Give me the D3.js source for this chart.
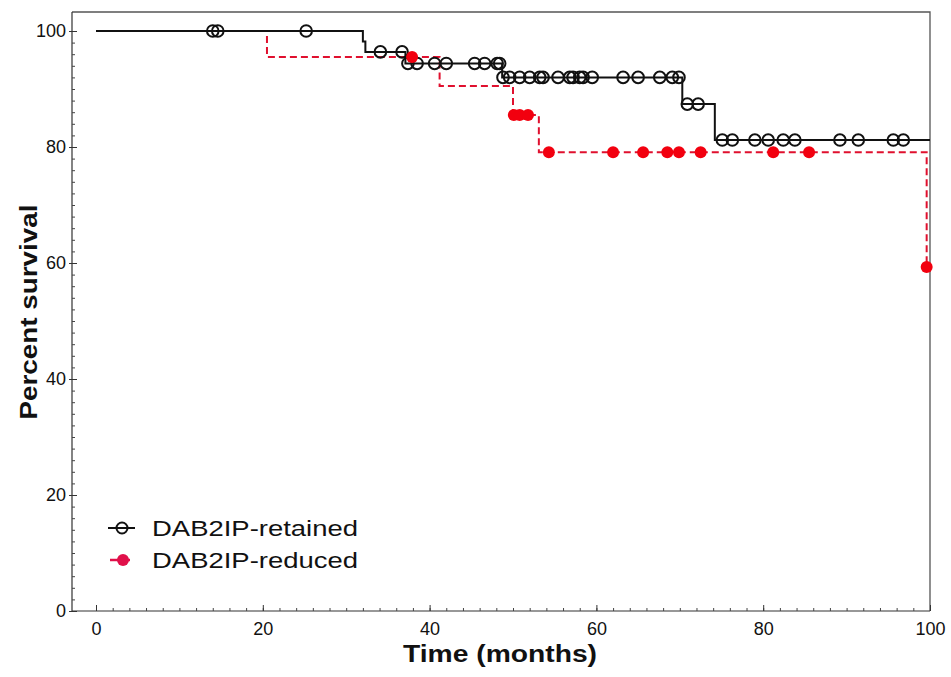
<!DOCTYPE html>
<html>
<head>
<meta charset="utf-8">
<script src="https://cdn.jsdelivr.net/npm/d3@7"></script>
<style>
  html, body { margin: 0; padding: 0; background: #fff; }
  svg { display: block; }
  text { font-family: "Liberation Sans", Arial, sans-serif; fill: #111; }
</style>
</head>
<body>
<svg id="chart" width="951" height="677"></svg>
<script>
// ---- data ----
const xTickValues = [0, 20, 40, 60, 80, 100];
const yTickValues = [0, 20, 40, 60, 80, 100];
const seriesNames = ["DAB2IP-retained", "DAB2IP-reduced"];

// step events: time (months) and survival (%) after the event
const retainedTimes    = [0, 32.0, 32.3, 37.1, 48.7, 70.3, 74.2, 100];
const retainedSurvival = [100, 98.2, 96.4, 94.4, 92.0, 87.4, 81.2, 81.2];
const retainedCensored = [14.0, 14.6, 25.2, 34.1, 36.7, 37.4, 38.5, 40.6, 42.0, 45.4, 46.6,
  48.1, 48.4, 48.8, 49.6, 50.8, 52.0, 53.2, 53.6, 55.4, 56.8, 57.2, 58.0, 58.4, 59.5,
  63.2, 65.0, 67.6, 69.1, 69.9, 70.9, 72.2, 75.1, 76.3, 79.0, 80.6, 82.4, 83.8,
  89.2, 91.4, 95.6, 96.8];

const reducedTimes    = [0, 20.5, 41.2, 50.0, 53.1, 99.6];
const reducedSurvival = [100, 95.5, 90.5, 85.5, 79.1, 59.3];
const reducedCensored = [37.9, 50.1, 50.8, 51.8, 54.3, 62.0, 65.6, 68.5, 69.9, 72.5, 81.2, 85.5, 99.6];

// ---- layout ----
const svg = d3.select("#chart");
const x = d3.scaleLinear().domain([0, 100]).range([96, 930]);
const y = d3.scaleLinear().domain([0, 100]).range([611, 31]);
const frameLeft = 72, frameTop = 12, frameRight = 930, frameBottom = 611;

const black = "#111111";
const redLine = "#e0102e";
const redDot = "#f2000f";

// frame (top & right) and axis lines
svg.append("path")
  .attr("d", `M${frameLeft},${frameTop}H${frameRight}V${frameBottom}`)
  .attr("fill", "none").attr("stroke", "#555").attr("stroke-width", 1.3);
svg.append("path")
  .attr("d", `M${frameLeft},${frameTop}V${frameBottom}H${frameRight}`)
  .attr("fill", "none").attr("stroke", "#333").attr("stroke-width", 1.2);

// minor ticks
const gxMinor = svg.append("g").attr("transform", `translate(0,${frameBottom})`)
  .call(d3.axisBottom(x).tickValues(d3.range(0, 101, 2)).tickSizeInner(-3).tickSizeOuter(0).tickFormat(""));
gxMinor.select(".domain").remove();
gxMinor.selectAll("line").attr("stroke", "#444");
const gyMinor = svg.append("g").attr("transform", `translate(${frameLeft},0)`)
  .call(d3.axisLeft(y).tickValues(d3.range(0, 101, 2)).tickSizeInner(-3).tickSizeOuter(0).tickFormat(""));
gyMinor.select(".domain").remove();
gyMinor.selectAll("line").attr("stroke", "#444");

// major ticks
const gx = svg.append("g").attr("transform", `translate(0,${frameBottom})`)
  .call(d3.axisBottom(x).tickValues(xTickValues).tickSizeInner(-6).tickSizeOuter(0).tickPadding(11));
gx.select(".domain").remove();
gx.selectAll("line").attr("stroke", "#333");
gx.selectAll("text").attr("font-size", 18).attr("fill", "#111")
  .attr("font-family", "Liberation Sans, Arial, sans-serif");

const gy = svg.append("g").attr("transform", `translate(${frameLeft},0)`)
  .call(d3.axisLeft(y).tickValues(yTickValues).tickSizeInner(-5).tickSizeOuter(0).tickPadding(6));
gy.select(".domain").remove();
gy.selectAll("line").attr("stroke", "#333").attr("x1", -3);
gy.selectAll("text").attr("font-size", 18).attr("fill", "#111")
  .attr("font-family", "Liberation Sans, Arial, sans-serif");

// helpers
function levelAt(times, surv, t) {
  let v = surv[0];
  for (let i = 0; i < times.length; i++) if (times[i] <= t) v = surv[i];
  return v;
}
const stepLine = d3.line().x(d => x(d[0])).y(d => y(d[1])).curve(d3.curveStepAfter);

// reduced (red, dashed) - drawn first, under the black curve
const reducedPts = reducedTimes.map((t, i) => [t, reducedSurvival[i]]);
svg.append("path").attr("d", stepLine(reducedPts))
  .attr("fill", "none").attr("stroke", redLine).attr("stroke-width", 2)
  .attr("stroke-dasharray", "7,4");

// retained (black, solid)
const retainedPts = retainedTimes.map((t, i) => [t, retainedSurvival[i]]);
svg.append("path").attr("d", stepLine(retainedPts))
  .attr("fill", "none").attr("stroke", black).attr("stroke-width", 2);

// censor marks
svg.append("g").selectAll("circle").data(retainedCensored).join("circle")
  .attr("cx", d => x(d)).attr("cy", d => y(levelAt(retainedTimes, retainedSurvival, d)))
  .attr("r", 5.8).attr("fill", "none").attr("stroke", black).attr("stroke-width", 2);

svg.append("g").selectAll("circle").data(reducedCensored).join("circle")
  .attr("cx", d => x(d)).attr("cy", d => y(levelAt(reducedTimes, reducedSurvival, d)))
  .attr("r", 6).attr("fill", redDot);

// axis titles
svg.append("text").attr("x", 500).attr("y", 662).attr("text-anchor", "middle")
  .attr("font-size", 23).attr("font-weight", "bold")
  .attr("textLength", 194).attr("lengthAdjust", "spacingAndGlyphs")
  .text("Time (months)");
svg.append("text").attr("transform", "translate(37,312) rotate(-90)").attr("text-anchor", "middle")
  .attr("font-size", 24).attr("font-weight", "bold")
  .attr("textLength", 215).attr("lengthAdjust", "spacingAndGlyphs")
  .text("Percent survival");

// legend
const legend = svg.append("g");
const rows = [
  { name: seriesNames[0], yc: 528, kind: "open" },
  { name: seriesNames[1], yc: 560, kind: "filled" }
];
rows.forEach(r => {
  if (r.kind === "open") {
    legend.append("line").attr("x1", 108).attr("x2", 135).attr("y1", r.yc).attr("y2", r.yc)
      .attr("stroke", black).attr("stroke-width", 2);
    legend.append("circle").attr("cx", 122).attr("cy", r.yc).attr("r", 5.5)
      .attr("fill", "none").attr("stroke", black).attr("stroke-width", 2);
  } else {
    legend.append("line").attr("x1", 110).attr("x2", 130).attr("y1", r.yc).attr("y2", r.yc)
      .attr("stroke", "#e0104a").attr("stroke-width", 2.5);
    legend.append("circle").attr("cx", 123).attr("cy", r.yc).attr("r", 6)
      .attr("fill", "#e0104a");
  }
  legend.append("text").attr("x", 152).attr("y", r.yc + 8)
    .attr("font-size", 22.5).attr("textLength", 206).attr("lengthAdjust", "spacingAndGlyphs")
    .text(r.name);
});
</script>
</body>
</html>
